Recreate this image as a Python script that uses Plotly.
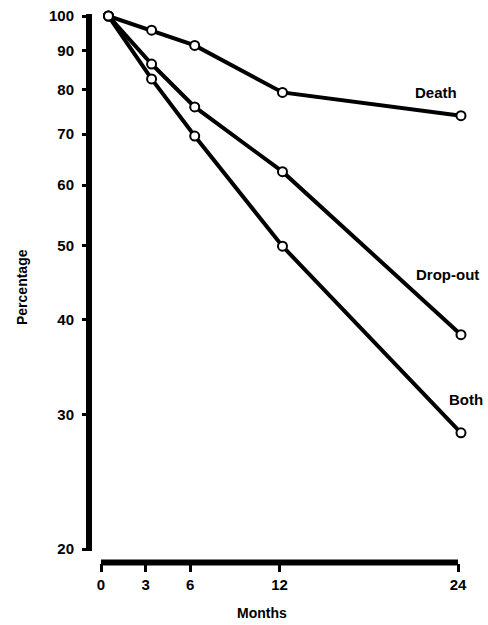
import math
import plotly.graph_objects as go

# ---- data ----
months_ticks = [0, 3, 6, 12, 24]
pct_ticks = [20, 30, 40, 50, 60, 70, 80, 90, 100]

months = [0.5, 3.4, 6.3, 12.2, 24.2]
death = [100, 95.8, 91.5, 79.4, 74.0]
dropout = [100, 86.5, 76.0, 62.5, 38.2]
both = [100, 82.7, 69.6, 49.9, 28.4]

series = [("Death", death, -25, 23), ("Drop-out", dropout, -13, 60), ("Both", both, 5, 33)]

W, H = 488, 625
FONT = "Liberation Sans, Arial, sans-serif"
PX_PER_MONTH = (458 - 101) / 24.0
X_MAX = 25.0
X_AX_Y = 562.5   # pixel row of x axis line
Y_AX_X = 89      # pixel column of y axis line

fig = go.Figure()
annotations = []
for name, vals, dx, dy in series:
    fig.add_trace(go.Scatter(
        x=months, y=vals, mode="lines+markers", name=name,
        line=dict(color="black", width=4),
        marker=dict(symbol="circle", size=9, color="white",
                    line=dict(color="black", width=2)),
        showlegend=False, cliponaxis=False, hoverinfo="skip",
    ))
    annotations.append(dict(
        x=months[-1], y=math.log10(vals[-1]), xref="x", yref="y",
        text="<b>%s</b>" % name, showarrow=False, xshift=dx, yshift=dy,
        font=dict(family=FONT, size=15, color="black"),
        xanchor="center", yanchor="middle"))

annotations.append(dict(
    x=22 / W, y=(H - 287) / H, xref="paper", yref="paper",
    text="<b>Percentage</b>", textangle=-90, showarrow=False,
    font=dict(family=FONT, size=14, color="black"),
    xanchor="center", yanchor="middle"))
annotations.append(dict(
    x=262 / W, y=(H - 613) / H, xref="paper", yref="paper",
    text="<b>Months</b>", showarrow=False,
    font=dict(family=FONT, size=14, color="black"),
    xanchor="center", yanchor="middle"))

y_bot, y_top = (H - 549) / H, (H - 16) / H
x_left = 101 / W
x_right = (101 + PX_PER_MONTH * X_MAX) / W

shapes = [
    # y axis line
    dict(type="line", xref="paper", yref="paper",
         x0=Y_AX_X / W, x1=Y_AX_X / W, y0=y_bot - 2 / H, y1=y_top + 2 / H,
         line=dict(color="black", width=6)),
    # x axis line from 0 to 24 months
    dict(type="line", xref="x", yref="paper",
         x0=months_ticks[0], x1=months_ticks[-1],
         y0=(H - X_AX_Y) / H, y1=(H - X_AX_Y) / H,
         line=dict(color="black", width=6)),
]

fig.update_layout(
    width=W, height=H,
    margin=dict(l=0, r=0, t=0, b=0),
    paper_bgcolor="white", plot_bgcolor="white",
    font=dict(family=FONT, color="black"),
    annotations=annotations, shapes=shapes,
    hovermode=False,
    xaxis=dict(
        range=[0, X_MAX], domain=[x_left, x_right],
        anchor="free", position=(H - X_AX_Y) / H,
        tickvals=months_ticks, ticktext=["<b>%d</b>" % t for t in months_ticks],
        showgrid=False, zeroline=False, showline=False,
        ticks="outside", ticklen=8, tickwidth=3, tickcolor="black",
        tickfont=dict(family=FONT, size=15, color="black"), automargin=False,
    ),
    yaxis=dict(
        type="log", range=[math.log10(20), math.log10(100)],
        domain=[y_bot, y_top],
        anchor="free", position=Y_AX_X / W,
        tickvals=pct_ticks, ticktext=["<b>%d</b>" % t for t in pct_ticks],
        showgrid=False, zeroline=False, showline=False,
        ticks="outside", ticklen=7, tickwidth=3, tickcolor="black",
        ticklabelstandoff=5,
        tickfont=dict(family=FONT, size=15, color="black"), automargin=False,
    ),
)

fig.write_html("out.html", config={"displayModeBar": False, "staticPlot": True},
               post_script="document.body.style.margin='0';document.body.style.overflow='hidden';")
